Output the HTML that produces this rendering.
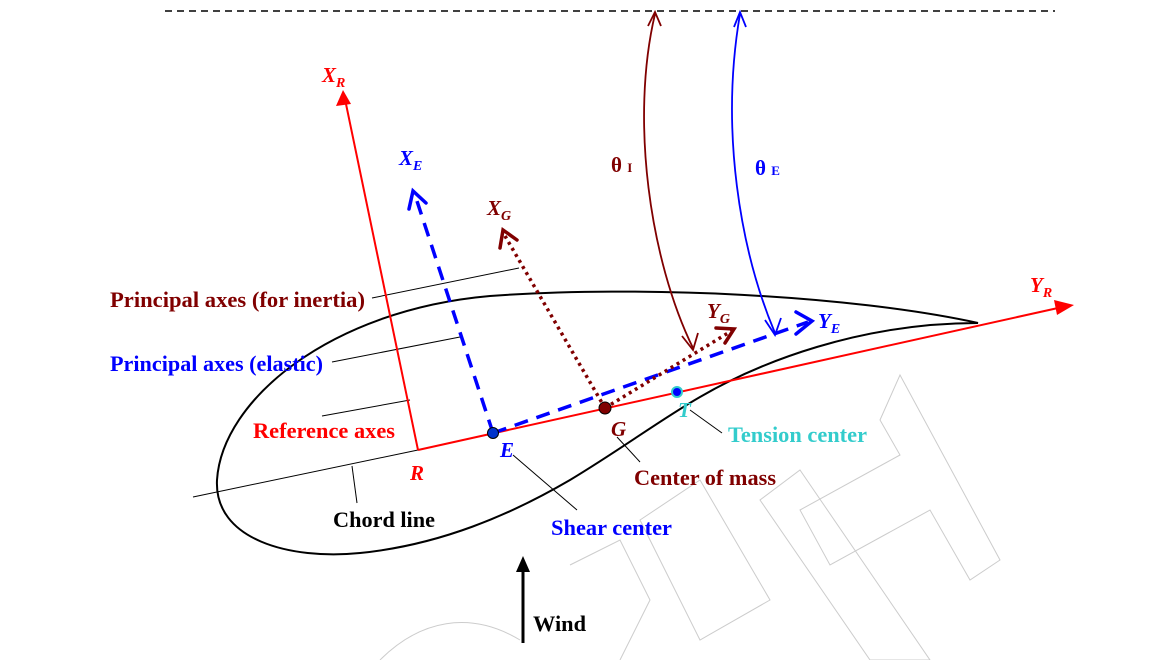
<!DOCTYPE html>
<html><head><meta charset="utf-8"><style>
html,body{margin:0;padding:0;background:#fff}
svg{display:block}
text{font-family:"Liberation Serif",serif;font-weight:bold}
</style></head><body>
<svg width="1162" height="660" viewBox="0 0 1162 660" xmlns="http://www.w3.org/2000/svg">
<!-- faint watermark -->
<g fill="none" stroke="#ccc" stroke-width="1">
<polygon points="900,375 1000,560 970,580 930,510 830,565 800,510 900,455 880,420"/>
<polygon points="800,470 930,660 870,660 760,500"/>
<polygon points="700,480 770,600 700,640 640,520"/>
<path d="M570,565 L620,540 L650,600 L620,660"/>
<path d="M380,660 C420,620 470,610 520,640"/>
</g>
<line x1="165" y1="11" x2="1055" y2="11" stroke="#000" stroke-width="1.5" stroke-dasharray="7,5"/>
<!-- airfoil -->
<path d="M978,323 C 850,295 640,285 490,296 C 330,310 222,400 217,480 C 214,540 290,560 360,553 C 440,545 510,515 570,480 C 620,450 660,420 700,397 C 760,362 860,323 978,323 Z" fill="none" stroke="#000" stroke-width="2"/>
<!-- chord -->
<line x1="193" y1="497" x2="418" y2="450" stroke="#000" stroke-width="1"/>
<!-- leaders -->
<g stroke="#000" stroke-width="1">
<line x1="372" y1="298" x2="519" y2="268"/>
<line x1="332" y1="362" x2="460" y2="337"/>
<line x1="322" y1="416" x2="410" y2="400"/>
<line x1="357" y1="503" x2="352" y2="466"/>
<line x1="577" y1="510" x2="513" y2="455"/>
<line x1="640" y1="462" x2="617" y2="437"/>
<line x1="722" y1="433" x2="690" y2="410"/>
</g>
<!-- red axes -->
<line x1="418" y1="450" x2="1058" y2="308" stroke="#f00" stroke-width="2"/>
<polygon points="1074,305 1054,300 1057,315" fill="#f00"/>
<line x1="418" y1="450" x2="346" y2="104" stroke="#f00" stroke-width="2"/>
<polygon points="343,90 336,106 351,104" fill="#f00"/>
<!-- blue elastic -->
<g stroke="#00f" stroke-width="3.5" fill="none" stroke-dasharray="14,9">
<line x1="493" y1="433" x2="415" y2="195"/>
<line x1="493" y1="433" x2="808" y2="322"/>
</g>
<g stroke="#00f" stroke-width="3.5" fill="none" stroke-linecap="round">
<polyline points="409,209 413,191 426,203"/>
<polyline points="796,312 812,321 796,334"/>
</g>
<!-- maroon inertia -->
<g stroke="#800000" stroke-width="3.5" fill="none" stroke-dasharray="3,4">
<line x1="605" y1="408" x2="505" y2="236"/>
<line x1="605" y1="408" x2="733" y2="330"/>
</g>
<g stroke="#800000" stroke-width="3.5" fill="none" stroke-linecap="round">
<polyline points="500,248 503,230 517,240"/>
<polyline points="716,328 734,329 725,343"/>
</g>
<!-- theta arcs -->
<path d="M655,14 C 630,120 650,260 693,348" stroke="#800000" stroke-width="1.8" fill="none"/>
<polyline points="648,26 655,12 661,26" stroke="#800000" stroke-width="1.8" fill="none"/>
<polyline points="682,336 693,350 698,333" stroke="#800000" stroke-width="1.8" fill="none"/>
<path d="M740,14 C 720,130 740,250 775,333" stroke="#00f" stroke-width="1.8" fill="none"/>
<polyline points="734,27 740,12 746,27" stroke="#00f" stroke-width="1.8" fill="none"/>
<polyline points="765,320 775,335 781,318" stroke="#00f" stroke-width="1.8" fill="none"/>
<!-- points -->
<circle cx="493" cy="433" r="5.5" fill="#0033cc" stroke="#000" stroke-width="1"/>
<circle cx="605" cy="408" r="6" fill="#800000" stroke="#000" stroke-width="1"/>
<circle cx="677" cy="392" r="5" fill="#00f" stroke="#33cccc" stroke-width="2"/>
<!-- wind -->
<line x1="523" y1="643" x2="523" y2="570" stroke="#000" stroke-width="3"/>
<polygon points="523,556 516,572 530,572" fill="#000"/>
<!-- labels -->
<g font-style="italic">
<text x="322" y="82" fill="#f00" font-size="21">X<tspan font-size="14" dy="5">R</tspan></text>
<text x="399" y="165" fill="#00f" font-size="21">X<tspan font-size="14" dy="5">E</tspan></text>
<text x="487" y="215" fill="#800000" font-size="21">X<tspan font-size="14" dy="5">G</tspan></text>
<text x="707" y="318" fill="#800000" font-size="21">Y<tspan font-size="14" dy="5">G</tspan></text>
<text x="818" y="328" fill="#00f" font-size="21">Y<tspan font-size="14" dy="5">E</tspan></text>
<text x="1030" y="292" fill="#f00" font-size="21">Y<tspan font-size="14" dy="5">R</tspan></text>
<text x="410" y="480" fill="#f00" font-size="21">R</text>
<text x="500" y="457" fill="#00f" font-size="21">E</text>
<text x="611" y="436" fill="#800000" font-size="21">G</text>
<text x="678" y="417" fill="#33cccc" font-size="21">T</text>
</g>
<text x="611" y="172" fill="#800000" font-size="21">θ <tspan font-size="13">I</tspan></text>
<text x="755" y="175" fill="#00f" font-size="21">θ <tspan font-size="13">E</tspan></text>
<text x="110" y="307" fill="#800000" font-size="22" textLength="255" lengthAdjust="spacingAndGlyphs">Principal axes (for inertia)</text>
<text x="110" y="371" fill="#00f" font-size="22" textLength="213" lengthAdjust="spacingAndGlyphs">Principal axes (elastic)</text>
<text x="253" y="438" fill="#f00" font-size="22" textLength="142" lengthAdjust="spacingAndGlyphs">Reference axes</text>
<text x="333" y="527" fill="#000" font-size="22" textLength="102" lengthAdjust="spacingAndGlyphs">Chord line</text>
<text x="551" y="535" fill="#00f" font-size="22" textLength="121" lengthAdjust="spacingAndGlyphs">Shear center</text>
<text x="634" y="485" fill="#800000" font-size="22" textLength="142" lengthAdjust="spacingAndGlyphs">Center of mass</text>
<text x="728" y="442" fill="#33cccc" font-size="22" textLength="139" lengthAdjust="spacingAndGlyphs">Tension center</text>
<text x="533" y="631" fill="#000" font-size="22" textLength="53" lengthAdjust="spacingAndGlyphs">Wind</text>
</svg>
</body></html>
